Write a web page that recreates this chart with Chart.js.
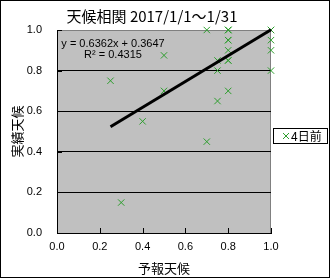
<!DOCTYPE html>
<html>
<head>
<meta charset="utf-8">
<script src="https://cdn.jsdelivr.net/npm/chart.js@4/dist/chart.umd.min.js"></script>
<style>
  html, body { margin: 0; padding: 0; background: #fff; }
  #wrap { width: 330px; height: 278px; position: relative; }
</style>
</head>
<body>
<div id="wrap"><canvas id="chart"></canvas></div>
<script>
// --- DATA ---
const chartTitle = '天候相関 2017/1/1～1/31';
const seriesLabel = '4日前';
const xTitle = '予報天候';
const yTitle = '実績天候';
// forecast (x) vs actual (y), one entry per day; repeats overlap on the plot
const forecast = [0.25, 0.3, 0.4, 0.5, 0.5, 0.7, 0.7, 0.75, 0.75, 0.75,
                  0.8, 0.8, 0.8, 0.8, 0.8, 0.8, 0.8, 0.8, 0.8,
                  1.0, 1.0, 1.0, 1.0, 1.0];
const actual   = [0.75, 0.15, 0.55, 0.875, 0.7, 1.0, 0.45, 0.85, 0.8, 0.65,
                  1.0, 1.0, 1.0, 0.95, 0.95, 0.9, 0.85, 0.85, 0.7,
                  1.0, 1.0, 0.95, 0.9, 0.8];
const trendSlope = 0.6362;
const trendIntercept = 0.3647;
const trendR2 = 0.4315;
const axisTicks = [0, 0.2, 0.4, 0.6, 0.8, 1.0];

const THEME = {
  marker: '#2e9e2e',
  plotBg: '#c0c0c0',
  plotEdge: '#808080',
  text: '#000000'
};
const CJK = '"Noto Sans CJK JP", sans-serif';

const points = forecast.map((x, i) => ({ x, y: actual[i] }));
const xMin = Math.min(...forecast), xMax = Math.max(...forecast);
const trendPoints = [xMin, xMax].map(x => ({ x, y: trendSlope * x + trendIntercept }));

// plot background, inner tick marks, frame, title, equation and legend box
const decorations = {
  id: 'decorations',
  beforeDraw(chart) {
    const { ctx, chartArea: a } = chart;
    ctx.save();
    ctx.fillStyle = THEME.plotBg;
    ctx.fillRect(a.left, a.top, a.right - a.left, a.bottom - a.top);
    ctx.strokeStyle = THEME.plotEdge;
    ctx.lineWidth = 1;
    ctx.beginPath();
    ctx.moveTo(a.left, a.top + 0.5); ctx.lineTo(a.right - 0.5, a.top + 0.5); ctx.lineTo(a.right - 0.5, a.bottom);
    ctx.stroke();
    ctx.restore();
  },
  afterDraw(chart) {
    const { ctx, chartArea: a, scales } = chart;
    ctx.save();
    // inside tick marks
    ctx.strokeStyle = '#000';
    ctx.lineWidth = 1;
    ctx.beginPath();
    axisTicks.forEach(v => {
      const px = Math.round(scales.x.getPixelForValue(v)) + 0.5;
      ctx.moveTo(px, a.bottom); ctx.lineTo(px, a.bottom - 5);
      const py = Math.round(scales.y.getPixelForValue(v)) + 0.5;
      ctx.moveTo(a.left, py); ctx.lineTo(a.left + 5, py);
    });
    ctx.stroke();

    // outer frame
    ctx.strokeRect(0.5, 0.5, chart.width - 1, chart.height - 1);

    // title
    ctx.fillStyle = THEME.text;
    ctx.textBaseline = 'middle';
    ctx.textAlign = 'center';
    ctx.font = '15px ' + CJK;
    ctx.fillText(chartTitle, 152, 16);

    // trendline equation
    ctx.font = '11px "Liberation Sans", sans-serif';
    ctx.fillText(`y = ${trendSlope}x + ${trendIntercept}`, 113, 44);
    ctx.fillText(`R² = ${trendR2}`, 113, 55);

    // legend box
    ctx.fillStyle = '#fff';
    ctx.fillRect(273, 128, 55, 16);
    ctx.strokeRect(273.5, 128.5, 54, 15);
    const ds = chart.data.datasets[0];
    ctx.strokeStyle = ds.borderColor;
    ctx.beginPath();
    ctx.moveTo(283, 133); ctx.lineTo(289, 139);
    ctx.moveTo(289, 133); ctx.lineTo(283, 139);
    ctx.stroke();
    ctx.fillStyle = THEME.text;
    ctx.textAlign = 'left';
    ctx.font = '12px ' + CJK;
    ctx.fillText(ds.label, 291, 136.5);
    ctx.restore();
  }
};

new Chart(document.getElementById('chart'), {
  type: 'scatter',
  data: {
    datasets: [
      {
        label: seriesLabel,
        data: points,
        pointStyle: 'crossRot',
        pointRadius: 4.5,
        pointHoverRadius: 4.5,
        borderColor: THEME.marker,
        backgroundColor: THEME.marker,
        borderWidth: 1,
        clip: false,
        order: 2
      },
      {
        label: 'trend',
        type: 'line',
        data: trendPoints,
        borderColor: '#000',
        borderWidth: 3,
        pointRadius: 0,
        fill: false,
        clip: false,
        order: 1
      }
    ]
  },
  plugins: [decorations],
  options: {
    responsive: true,
    maintainAspectRatio: false,
    animation: false,
    layout: { padding: { top: 30, right: 59, left: 0, bottom: 0 } },
    plugins: {
      legend: { display: false },
      title: { display: false },
      tooltip: { enabled: false }
    },
    scales: {
      x: {
        type: 'linear',
        min: 0, max: 1,
        afterFit: s => { s.height = 45; },
        afterBuildTicks: s => { s.ticks = axisTicks.map(value => ({ value })); },
        ticks: {
          color: '#000',
          font: { size: 11, family: '"Liberation Sans", sans-serif' },
          padding: 7,
          callback: v => v.toFixed(1)
        },
        grid: { display: false, drawTicks: false },
        border: { display: true, color: '#000', width: 1 },
        title: {
          display: true, text: xTitle, color: '#000',
          font: { size: 13, family: CJK }, padding: { top: 0, bottom: 2 }
        }
      },
      y: {
        type: 'linear',
        min: 0, max: 1,
        afterFit: s => { s.width = 57; },
        afterBuildTicks: s => { s.ticks = axisTicks.map(value => ({ value })); },
        ticks: {
          color: '#000',
          font: { size: 11, family: '"Liberation Sans", sans-serif' },
          padding: 15,
          callback: v => v.toFixed(1)
        },
        grid: {
          drawTicks: false,
          color: c => (c.tick && c.tick.value > 0 && c.tick.value < 1) ? '#000' : 'rgba(0,0,0,0)'
        },
        border: { display: true, color: '#000', width: 1 },
        title: {
          display: true, text: yTitle, color: '#000',
          font: { size: 13, family: CJK }, padding: { top: 9, bottom: 0 }
        }
      }
    }
  }
});
</script>
</body>
</html>
